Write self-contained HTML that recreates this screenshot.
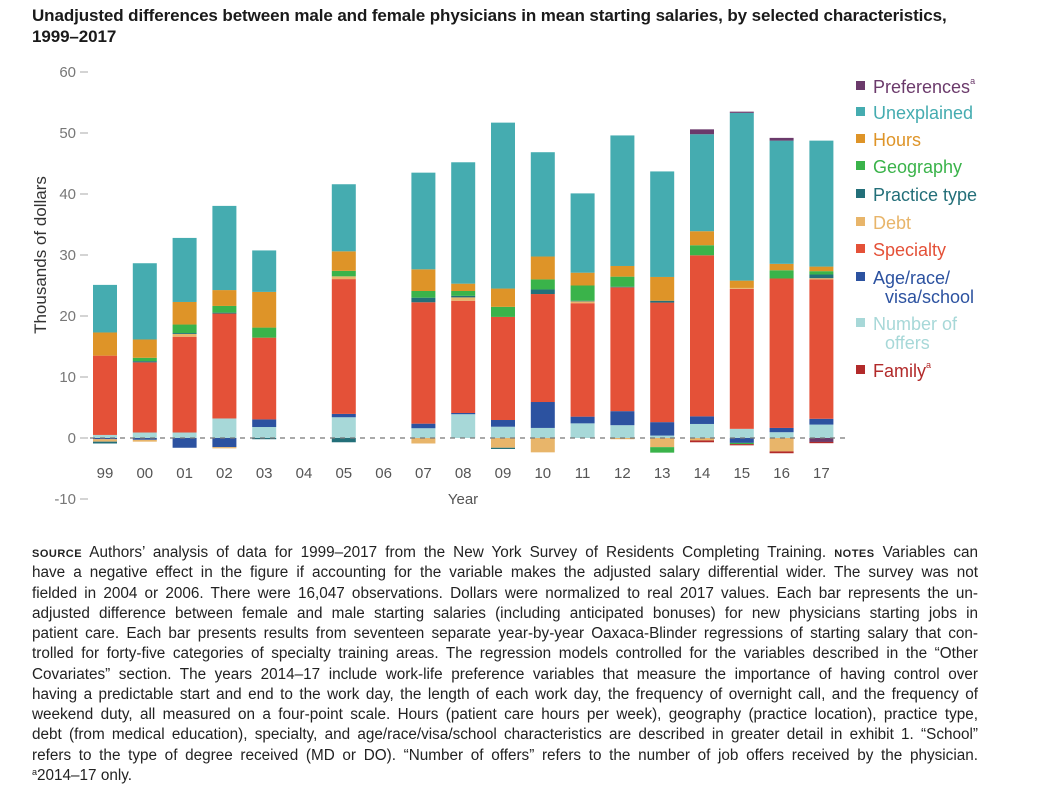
<!DOCTYPE html>
<html><head><meta charset="utf-8">
<style>
body{margin:0;background:#fff;width:1039px;height:791px;overflow:hidden;font-family:"Liberation Sans",sans-serif;position:relative}
#title{position:absolute;left:32px;top:5px;font-size:17px;font-weight:bold;line-height:21px;color:#1a1a1a;letter-spacing:-0.1px}
#notes{position:absolute;left:32px;top:543px;width:946px;font-size:15.3px;line-height:20.25px;color:#222}
#notes div{text-align:justify;text-align-last:justify;white-space:nowrap;height:20.25px}
#notes div.last{text-align-last:left}
.sc{font-variant:small-caps;font-weight:bold;letter-spacing:0.5px}
.sup{font-size:9px;vertical-align:top;line-height:12px}
</style></head><body>
<div id="title">Unadjusted differences between male and female physicians in mean starting salaries, by selected characteristics,<br>1999–2017</div>
<svg id="chart" width="1039" height="540" style="position:absolute;left:0;top:0"></svg>
<div id="notes">
<div><span class="sc">source</span> Authors’ analysis of data for 1999–2017 from the New York Survey of Residents Completing Training. <span class="sc">notes</span> Variables can</div>
<div>have a negative effect in the figure if accounting for the variable makes the adjusted salary differential wider. The survey was not</div>
<div>fielded in 2004 or 2006. There were 16,047 observations. Dollars were normalized to real 2017 values. Each bar represents the un-</div>
<div>adjusted difference between female and male starting salaries (including anticipated bonuses) for new physicians starting jobs in</div>
<div>patient care. Each bar presents results from seventeen separate year-by-year Oaxaca-Blinder regressions of starting salary that con-</div>
<div>trolled for forty-five categories of specialty training areas. The regression models controlled for the variables described in the “Other</div>
<div>Covariates” section. The years 2014–17 include work-life preference variables that measure the importance of having control over</div>
<div>having a predictable start and end to the work day, the length of each work day, the frequency of overnight call, and the frequency of</div>
<div>weekend duty, all measured on a four-point scale. Hours (patient care hours per week), geography (practice location), practice type,</div>
<div>debt (from medical education), specialty, and age/race/visa/school characteristics are described in greater detail in exhibit 1. “School”</div>
<div>refers to the type of degree received (MD or DO). “Number of offers” refers to the number of job offers received by the physician.</div>
<div class="last"><span class="sup">a</span>2014–17 only.</div>
</div>
<script>
const years=["99","00","01","02","03","04","05","06","07","08","09","10","11","12","13","14","15","16","17"];
const offers=[0.5,0.9,0.9,3.2,1.8,0,3.4,0,1.6,3.9,1.85,1.65,2.4,2.1,0.4,2.3,1.5,0.95,2.2];
const age=[-0.2,-0.3,-1.6,-1.5,1.25,0,0.55,0,0.75,0.2,1.1,4.25,1.1,2.3,2.2,1.25,-0.8,0.7,0.95];
const specialty=[13.0,11.5,15.7,17.2,13.4,0,22.1,0,19.9,18.4,16.9,17.7,18.6,20.3,19.6,26.4,22.95,24.5,22.85];
const debt=[-0.4,-0.3,0.45,-0.2,0,0,0.45,0,-0.9,0.55,-1.6,-2.35,0.3,-0.2,-1.5,-0.4,0.15,-2.2,0.2];
const practice=[-0.3,0.2,0.15,0.15,-0.2,0,-0.7,0,0.75,0.25,-0.2,0.75,0.1,0.1,0.3,0,0,0,0.6];
const geography=[0,0.55,1.4,1.1,1.65,0,0.9,0,1.1,0.8,1.65,1.65,2.5,1.65,-0.9,1.65,-0.2,1.35,0.55];
const hours=[3.8,3.0,3.7,2.6,5.85,0,3.2,0,3.55,1.2,3.0,3.75,2.1,1.75,3.9,2.3,1.2,1.05,0.75];
const unexplained=[7.8,12.5,10.5,13.8,6.8,0,11.0,0,15.85,19.9,27.2,17.1,13.0,21.4,17.3,15.9,27.5,20.2,20.65];
const preferences=[0,0,0,0,0,0,0,0,0,0,0,0,0,0,0,0.8,0.2,0.45,-0.65];
const family=[0,0,0,0,0,0,0,0,0,0,0,0,0,0,0,-0.3,-0.2,-0.3,-0.2];
const yTicks=[-10,0,10,20,30,40,50,60];
const seriesNames=["offers","age","specialty","debt","practice","geography","hours","unexplained","preferences","family"];
const seriesData=[offers,age,specialty,debt,practice,geography,hours,unexplained,preferences,family];
const colors=["#a7d8d8","#2c52a0","#e45138","#e8b56a","#236f79","#3ab34a","#de9428","#45acb0","#6b3a6b","#b22a2a"];
const legendLabels=[["Preferences","a"],["Unexplained"],["Hours"],["Geography"],["Practice type"],["Debt"],["Specialty"],["Age/race/","visa/school"],["Number of","offers"],["Family","a"]];
const legendColors=["#6b3a6b","#45acb0","#de9428","#3ab34a","#236f79","#e8b56a","#e45138","#2c52a0","#a7d8d8","#b22a2a"];

const NS="http://www.w3.org/2000/svg";
const svg=document.getElementById('chart');
function mk(tag,attrs,parent){const e=document.createElementNS(NS,tag);for(const k in attrs)e.setAttribute(k,attrs[k]);(parent||svg).appendChild(e);return e;}
const y=v=>438-v*6.1;
const x=i=>105+i*39.8;
const bw=24;

yTicks.forEach(t=>{
  const tx=mk('text',{x:76,y:y(t)+5,'text-anchor':'end','font-size':15,fill:'#777','font-family':'Liberation Sans, sans-serif'});
  tx.textContent=t;
  
  
  const ln=mk('line',{x1:80,x2:88,y1:y(t),y2:y(t),stroke:'#aaa','stroke-width':1});
  
  
});
const yt=mk('text',{x:0,y:0,transform:'translate(46,255) rotate(-90)','text-anchor':'middle','font-size':17,fill:'#333'});
yt.textContent='Thousands of dollars';



years.forEach((yr,i)=>{
  let pos=0,neg=0;
  seriesData.forEach((arr,s)=>{
    const v=arr[i];
    if(!v)return;
    let top,h;
    if(v>0){top=y(pos+v);h=v*6.1;pos+=v;}else{top=y(neg);h=-v*6.1;neg+=v;}
    const r=mk('rect',{x:x(i)-bw/2,y:top,width:bw,height:h,fill:colors[s]});
    
    
  });
  const lt=mk('text',{x:x(i),y:478,'text-anchor':'middle','font-size':15,fill:'#555'});
  lt.textContent=yr;
  
  
});
const zl=mk('line',{x1:90,x2:846,y1:y(0),y2:y(0),stroke:'#777','stroke-width':1.2,'stroke-dasharray':'5,5'});


const xt=mk('text',{x:463,y:504,'text-anchor':'middle','font-size':15,fill:'#555'});
xt.textContent='Year';



const ly=[87,113,140,167,195,223,250,278,324,371];
legendLabels.forEach((lab,k)=>{
  const g=mk('g',{});
  
  
  mk('rect',{x:856,y:ly[k]-6,width:9,height:9,fill:legendColors[k]},g);
  const t=mk('text',{x:873,y:ly[k]+6,'font-size':18,fill:legendColors[k]},g);
  if(lab.length===2&&lab[1]==='a'){
    t.textContent=lab[0];
    const sp=mk('tspan',{'font-size':9,dy:-9},t);sp.textContent='a';
  }else{
    t.textContent=lab[0];
    if(lab[1]){const t2=mk('text',{x:885,y:ly[k]+25,'font-size':18,fill:legendColors[k]},g);t2.textContent=lab[1];}
  }
});
</script>
</body></html>
